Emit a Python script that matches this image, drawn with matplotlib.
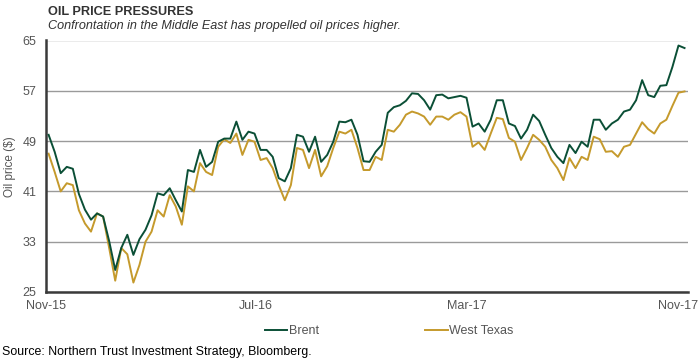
import matplotlib
matplotlib.use('Agg')
import matplotlib.pyplot as plt
import pandas as pd

# weekly readings, Nov-2015 .. Nov-2017
dates = pd.date_range('2015-11-04', periods=106, freq='7D')

brent = [50.0, 47.3, 43.9, 44.9, 44.6, 40.6, 38.1, 36.5, 37.5, 37.0,
         33.1, 28.5, 32.0, 34.1, 30.9, 33.4, 34.9, 37.2, 40.7, 40.4,
         41.5, 39.6, 37.8, 44.4, 44.1, 47.6, 44.9, 45.7, 48.9, 49.4,
         49.4, 52.1, 49.2, 50.5, 50.2, 47.6, 47.6, 46.5, 43.1, 42.6,
         44.7, 50.0, 49.7, 47.3, 49.7, 45.7, 46.8, 48.9, 52.1, 52.0,
         52.4, 50.0, 45.8, 45.7, 47.3, 48.4, 53.5, 54.4, 54.7, 55.4,
         56.6, 56.5, 55.5, 54.0, 56.3, 56.4, 55.8, 56.0, 56.2, 55.9,
         51.3, 51.8, 50.5, 52.4, 55.5, 55.5, 51.8, 51.4, 49.4, 50.8,
         53.2, 52.2, 50.0, 47.9, 46.5, 45.5, 48.4, 47.1, 48.9, 48.1,
         52.4, 52.4, 50.8, 51.8, 52.4, 53.7, 54.0, 55.5, 58.7, 56.3,
         56.0, 57.8, 57.9, 60.8, 64.2, 63.8]

wti = [47.0, 44.1, 41.0, 42.3, 42.0, 38.0, 35.9, 34.6, 37.5, 37.0,
       32.0, 26.8, 32.0, 31.0, 26.5, 29.3, 33.0, 34.6, 38.0, 37.0,
       40.4, 38.6, 35.7, 41.8, 41.0, 45.5, 44.1, 43.6, 48.1, 49.3,
       48.7, 50.2, 46.8, 49.2, 48.9, 46.0, 46.3, 44.7, 42.0, 39.6,
       42.0, 47.9, 47.6, 44.7, 47.6, 43.4, 45.0, 47.9, 50.5, 50.2,
       50.8, 47.9, 44.4, 44.4, 46.5, 46.0, 50.8, 50.5, 51.6, 53.2,
       53.7, 53.4, 52.9, 51.6, 52.9, 52.9, 52.4, 53.2, 53.6, 52.9,
       48.1, 48.8, 47.6, 50.2, 52.7, 52.5, 49.5, 48.9, 46.0, 47.9,
       50.0, 49.2, 48.1, 46.0, 44.7, 42.8, 46.3, 44.7, 46.5, 46.0,
       49.7, 49.3, 47.3, 47.4, 46.5, 48.1, 48.4, 50.2, 52.0, 50.9,
       50.2, 51.8, 52.4, 54.6, 56.7, 56.9]

yticks = [25, 33, 41, 49, 57, 65]
xtick_dates = ['2015-11-01', '2016-07-01', '2017-03-01', '2017-11-01']
xtick_labels = ['Nov-15', 'Jul-16', 'Mar-17', 'Nov-17']

plt.rcParams['font.family'] = ['Liberation Sans', 'DejaVu Sans']

fig = plt.figure(figsize=(7, 3.62), dpi=100)
ax = fig.add_axes([46/700, 1-292/362, 642/700, 251.5/362])

ax.plot(dates, brent, color='#0b4f36', lw=1.4, label='Brent', zorder=3)
ax.plot(dates, wti, color='#c59a2c', lw=1.4, label='West Texas', zorder=2)

ax.set_ylim(25, 65)
ax.set_yticks(yticks)
ax.set_xlim(pd.Timestamp('2015-11-01'), pd.Timestamp('2017-11-12'))
ax.set_xticks(pd.to_datetime(xtick_dates))
ax.set_xticklabels(xtick_labels)

ax.grid(axis='y', color='#9a9a9a', lw=1.0)
ax.set_axisbelow(True)
for s in ['top', 'right']:
    ax.spines[s].set_visible(False)
for s in ['left', 'bottom']:
    ax.spines[s].set_color('#3a3a3a')
    ax.spines[s].set_linewidth(1.8)
ax.tick_params(length=0, labelsize=9, colors='#555555')
ax.tick_params(axis='y', pad=7)
ax.tick_params(axis='x', pad=6)
ax.set_ylabel('Oil price ($)', fontsize=8.5, color='#555555')
ax.yaxis.set_label_coords(-0.047, 0.5)

fig.text(48/700, 1-12/362, 'OIL PRICE PRESSURES', fontsize=9.2, fontweight='bold',
         color='#333333', va='center')
fig.text(48/700, 1-26/362, 'Confrontation in the Middle East has propelled oil prices higher.',
         fontsize=9.1, style='italic', color='#333333', va='center')

fig.legend(loc='center', bbox_to_anchor=(389/700, 1-331/362), ncol=2, frameon=False,
           fontsize=9, handlelength=1.8, handletextpad=0.1, columnspacing=8.5,
           labelcolor='#555555')

fig.text(2/700, 1-352/362, 'Source: Northern Trust Investment Strategy, Bloomberg.',
         fontsize=8.9, color='black', va='center')

fig.savefig('out.png', dpi=100)
